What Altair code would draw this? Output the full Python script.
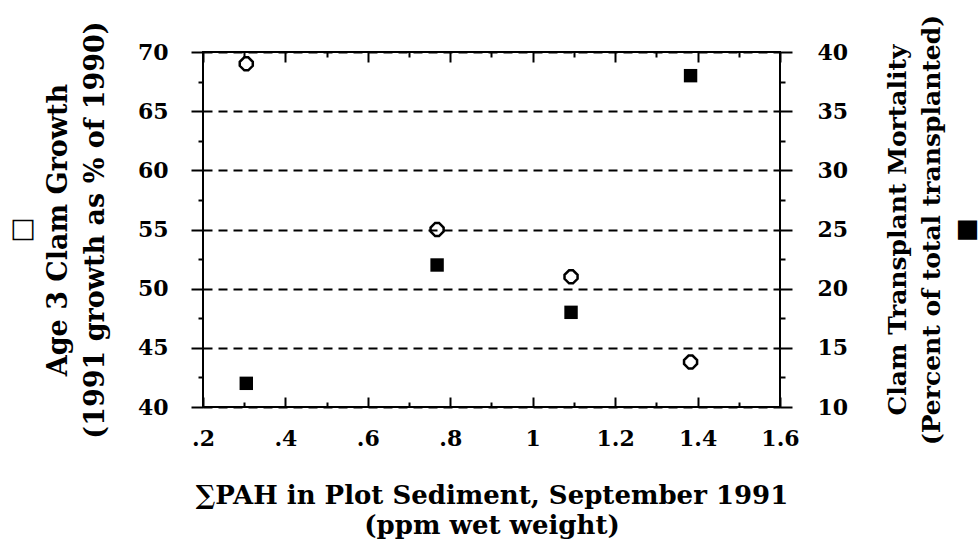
import altair as alt
import pandas as pd

# ---- data ----
pah = [0.305, 0.768, 1.093, 1.383]          # ΣPAH (ppm wet weight)
growth = [69, 55, 51, 43.8]                  # Age 3 clam growth (% of 1990)
mortality = [12, 22, 18, 38]                 # transplant mortality (%)

x_major = [0.2, 0.4, 0.6, 0.8, 1.0, 1.2, 1.4, 1.6]
x_major_labels = [".2", ".4", ".6", ".8", "1", "1.2", "1.4", "1.6"]
x_minor = [0.3, 0.5, 0.7, 0.9, 1.1, 1.3, 1.5]
y_left = [40, 42.5, 45, 47.5, 50, 52.5, 55, 57.5, 60, 62.5, 65, 67.5, 70]
y_right = [10, 12.5, 15, 17.5, 20, 22.5, 25, 27.5, 30, 32.5, 35, 37.5, 40]

df = pd.DataFrame({"pah": pah, "growth": growth, "mortality": mortality})

FONT = "DejaVu Serif"
W, H = 577, 355

x_all = sorted(x_major + x_minor)
lab = "''"
for v, l in reversed(list(zip(x_major, x_major_labels))):
    lab = f"abs(datum.value - {v}) < 0.001 ? '{l}' : ({lab})"

x_major_test = "abs(round(datum.value * 10)) % 2 == 0"
y_major_test = "datum.value % 5 == 0"

x_scale = alt.Scale(domain=[0.2, 1.6], nice=False, zero=False)

common_axis = dict(
    domain=False, tickColor="black", tickWidth=2,
    labelFont=FONT, labelFontWeight="bold", labelFontSize=22, labelColor="black",
    titleFont=FONT, titleFontWeight="bold", titleColor="black",
    labelOverlap=False, labelFlush=False,
)

diamond_path = "M-0.3,-1L0.3,-1L1,-0.3L1,0.3L0.3,1L-0.3,1L-1,0.3L-1,-0.3Z"

growth_layer = alt.Chart(df).mark_point(
    shape=diamond_path, filled=False, color="black", strokeWidth=2.5, size=170, opacity=1
).encode(
    x=alt.X("pah:Q", scale=x_scale, axis=alt.Axis(
        orient="bottom", values=x_all, labelExpr=lab,
        tickSize={"expr": f"{x_major_test} ? -10 : -5"},
        labelPadding=41, labelBaseline="middle",
        title=["∑PAH in Plot Sediment, September 1991", "(ppm wet weight)"],
        titleFontSize=26,
        titleX=W / 2, titleY=88, titleAlign="center", titleBaseline="middle",
        titleLineHeight=30, grid=False, **common_axis)),
    y=alt.Y("growth:Q", scale=alt.Scale(domain=[40, 70], nice=False, zero=False),
            axis=alt.Axis(
                orient="left", values=y_left,
                labelExpr=f"{y_major_test} ? datum.label : ''",
                tickSize={"expr": f"{y_major_test} ? 12 : 5"},
                labelPadding=23, labelBaseline="middle", labelAlign="right",
                title=["□", "Age 3 Clam Growth", "(1991 growth as % of 1990)"],
                titleFontSize=27,
                titleAngle=-90, titleX=-182, titleY=H / 2,
                titleAlign="center", titleBaseline="middle", titleLineHeight=37,
                grid=True, gridColor="black", gridWidth=2, gridDash=[9, 6],
                gridOpacity={"expr": f"{y_major_test} ? 1 : 0"},
                **common_axis)),
)

mortality_layer = alt.Chart(df).mark_point(
    shape="square", filled=True, color="black", size=180, opacity=1
).encode(
    x=alt.X("pah:Q", scale=x_scale, axis=alt.Axis(
        orient="top", values=x_all, labels=False, title=None, grid=False,
        tickSize={"expr": f"{x_major_test} ? -10 : -5"}, **common_axis)),
    y=alt.Y("mortality:Q", scale=alt.Scale(domain=[10, 40], nice=False, zero=False),
            axis=alt.Axis(
                orient="right", values=y_right,
                labelExpr=f"{y_major_test} ? datum.label : ''",
                tickSize={"expr": f"{y_major_test} ? 12 : 5"},
                labelPadding=25, labelBaseline="middle", labelAlign="left",
                title=["Clam Transplant Mortality", "(Percent of total transplanted)", "■"],
                titleFontSize=25,
                titleAngle=-90, titleX=117, titleY=H / 2,
                titleAlign="center", titleBaseline="middle", titleLineHeight=34,
                grid=False, **common_axis)),
)

chart = alt.layer(growth_layer, mortality_layer).resolve_scale(
    y="independent"
).resolve_axis(
    x="independent", y="independent"
).properties(
    width=W, height=H,
    autosize=alt.AutoSizeParams(type="none"),
    padding={"left": 203, "top": 52, "right": 978 - 203 - W, "bottom": 543 - 52 - H},
    background="white",
).configure_view(stroke="black", strokeWidth=2)

chart.save("out.html", embed_options={"renderer": "svg", "actions": False})
